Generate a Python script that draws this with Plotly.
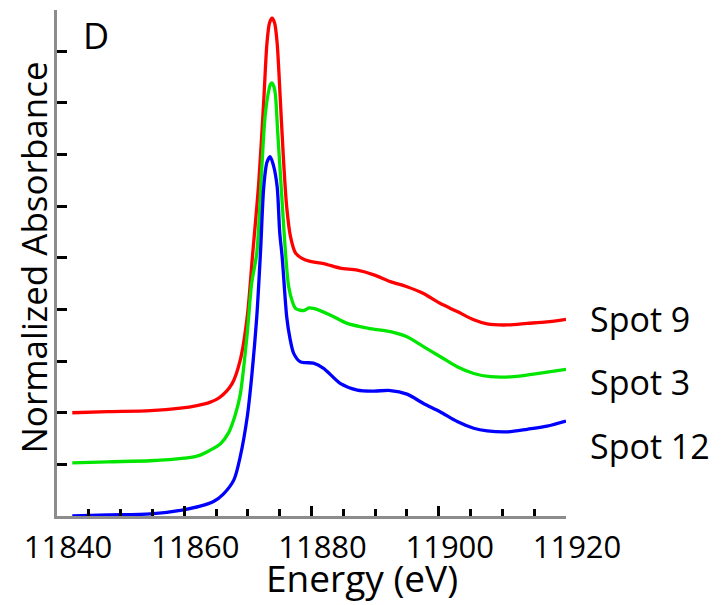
import plotly.graph_objects as go

# ---- data ----
blue_x = [11842.4, 11848, 11854.7, 11859.9, 11862.5, 11864.6, 11866.1, 11867.8, 11868.8, 11869.9,
          11870.6, 11871.4, 11872.0, 11872.5, 11873.0, 11873.5, 11874.0, 11874.6, 11875.0, 11875.4,
          11876.1, 11876.6, 11877.2, 11878.2, 11879.0, 11880.3, 11881.9, 11884.5, 11887.2, 11889.8,
          11892.4, 11895.0, 11897.6, 11900.2, 11902.9, 11905.5, 11907.6, 11910.7, 11913.9, 11917.0, 11920.0]
blue_y = [0.00, 0.02, 0.04, 0.12, 0.19, 0.28, 0.42, 0.70, 1.15, 1.92,
          2.70, 3.86, 5.15, 6.38, 6.85, 6.96, 6.80, 6.38, 5.50, 5.00,
          3.86, 3.45, 3.15, 2.99, 2.97, 2.96, 2.86, 2.57, 2.44, 2.42,
          2.43, 2.36, 2.18, 2.02, 1.83, 1.70, 1.65, 1.63, 1.68, 1.74, 1.84]

green_x = [11842.4, 11848, 11854.7, 11860.0, 11862.0, 11864.0, 11865.7, 11867.0, 11868.0, 11868.8,
           11869.9, 11870.6, 11871.4, 11872.2, 11872.7, 11873.3, 11873.55, 11873.8, 11874.05, 11874.3,
           11874.7, 11875.2, 11875.7, 11876.0, 11876.4, 11877.0, 11877.5, 11878.8, 11879.6, 11880.3,
           11883.0, 11885.6, 11889.2, 11892.4, 11895.0, 11897.6, 11900.2, 11902.9, 11905.5, 11908.1,
           11911.8, 11914.9, 11920.0]
green_y = [1.03, 1.05, 1.07, 1.12, 1.16, 1.27, 1.40, 1.62, 1.95, 2.35,
           3.54, 4.51, 5.09, 6.77, 7.73, 8.25, 8.36, 8.39, 8.33, 8.19,
           7.41, 6.44, 5.48, 4.96, 4.45, 4.15, 4.02, 3.98, 4.03, 4.02,
           3.89, 3.73, 3.63, 3.57, 3.47, 3.28, 3.09, 2.89, 2.76, 2.70,
           2.70, 2.75, 2.84]

red_x = [11842.4, 11848, 11854.7, 11859.4, 11862.0, 11864.0, 11865.5, 11867.5, 11868.8,
         11869.9, 11870.7, 11871.7, 11872.5, 11873.0, 11873.4, 11873.8, 11874.2, 11874.6, 11875.1,
         11875.6, 11876.1, 11876.7, 11877.5, 11878.5, 11879.8, 11881.9, 11884.5, 11887.2, 11889.8,
         11892.4, 11895.0, 11897.6, 11900.2, 11902.9, 11905.5, 11907.6, 11910.7, 11913.9, 11917.0,
         11920.0]
red_y = [2.00, 2.02, 2.04, 2.09, 2.14, 2.20, 2.29, 2.56, 3.02,
         3.86, 5.00, 6.44, 8.06, 9.16, 9.55, 9.64, 9.55, 9.16, 8.06,
         6.90, 5.99, 5.41, 5.09, 4.99, 4.93, 4.89, 4.80, 4.76, 4.67,
         4.54, 4.44, 4.31, 4.12, 3.96, 3.80, 3.72, 3.70, 3.73, 3.76,
         3.81]

series_names = ["Spot 9", "Spot 3", "Spot 12"]
x_ticks = [11840, 11860, 11880, 11900, 11920]
y_ticks = [0, 1, 2, 3, 4, 5, 6, 7, 8, 9, 9.8]

# ---- layout geometry (pixels) ----
# the page body has an 8px margin, so the figure is drawn 8px smaller
# and every reference pixel position is shifted by OFF
OFF = 8
W, H = 726 - OFF, 605 - OFF
ML, MT = 57 - OFF, 10 - OFF
MR = W - (566 - OFF)
MB = H - (516 - OFF)
PW, PH = W - ML - MR, H - MT - MB
FONT = "Open Sans"


def px(x):
    return (x - OFF - ML) / PW


def py(y):
    return (H - MB - (y - OFF)) / PH


fig = go.Figure()
for xs, ys, col in [(red_x, red_y, "#ff0000"), (green_x, green_y, "#00e600"), (blue_x, blue_y, "#0000ff")]:
    fig.add_trace(go.Scatter(x=xs, y=ys, mode="lines",
                             line=dict(color=col, width=3.3, shape="spline", smoothing=0.8),
                             showlegend=False, hoverinfo="skip"))

fig.update_layout(
    width=W, height=H,
    margin=dict(l=ML, r=MR, t=MT, b=MB, autoexpand=False),
    paper_bgcolor="white", plot_bgcolor="white",
    font=dict(family=FONT, color="black"),
    showlegend=False,
)
fig.update_xaxes(
    range=[11840, 11920], showgrid=False, zeroline=False, automargin=False,
    showline=True, linecolor="#8c8c8c", linewidth=3,
    tickmode="array", tickvals=x_ticks, ticktext=[str(v) for v in x_ticks],
    ticks="inside", ticklen=10, tickwidth=3, tickcolor="black",
    tickfont=dict(family=FONT, size=31, color="black"),
    ticklabelshift=11, ticklabelstandoff=2,
    minor=dict(dtick=5, tick0=11840, ticks="inside", ticklen=7, tickwidth=3, tickcolor="black", showgrid=False),
)
fig.update_yaxes(
    range=[0, 9.8], showgrid=False, zeroline=False, automargin=False,
    showline=True, linecolor="#8c8c8c", linewidth=3,
    tickmode="array", tickvals=y_ticks, showticklabels=False,
    ticks="inside", ticklen=10, tickwidth=3, tickcolor="black",
)

ann = [
    dict(text="D", x=px(96), y=py(35), size=36),
    dict(text="Energy (eV)", x=px(362), y=py(577), size=37),
    dict(text=series_names[0], x=px(640), y=py(319), size=34),
    dict(text=series_names[1], x=px(640), y=py(382), size=34),
    dict(text=series_names[2], x=px(650), y=py(446), size=34),
]
for a in ann:
    fig.add_annotation(text=a["text"], x=a["x"], y=a["y"], xref="paper", yref="paper",
                       xanchor="center", yanchor="middle", showarrow=False,
                       font=dict(family=FONT, size=a["size"], color="black"))
fig.add_annotation(text="Normalized Absorbance", x=px(OFF), y=py(258), xref="paper", yref="paper",
                   xanchor="left", yanchor="middle", showarrow=False, textangle=-90,
                   font=dict(family=FONT, size=35, color="black"))

fig.write_html("out.html")
